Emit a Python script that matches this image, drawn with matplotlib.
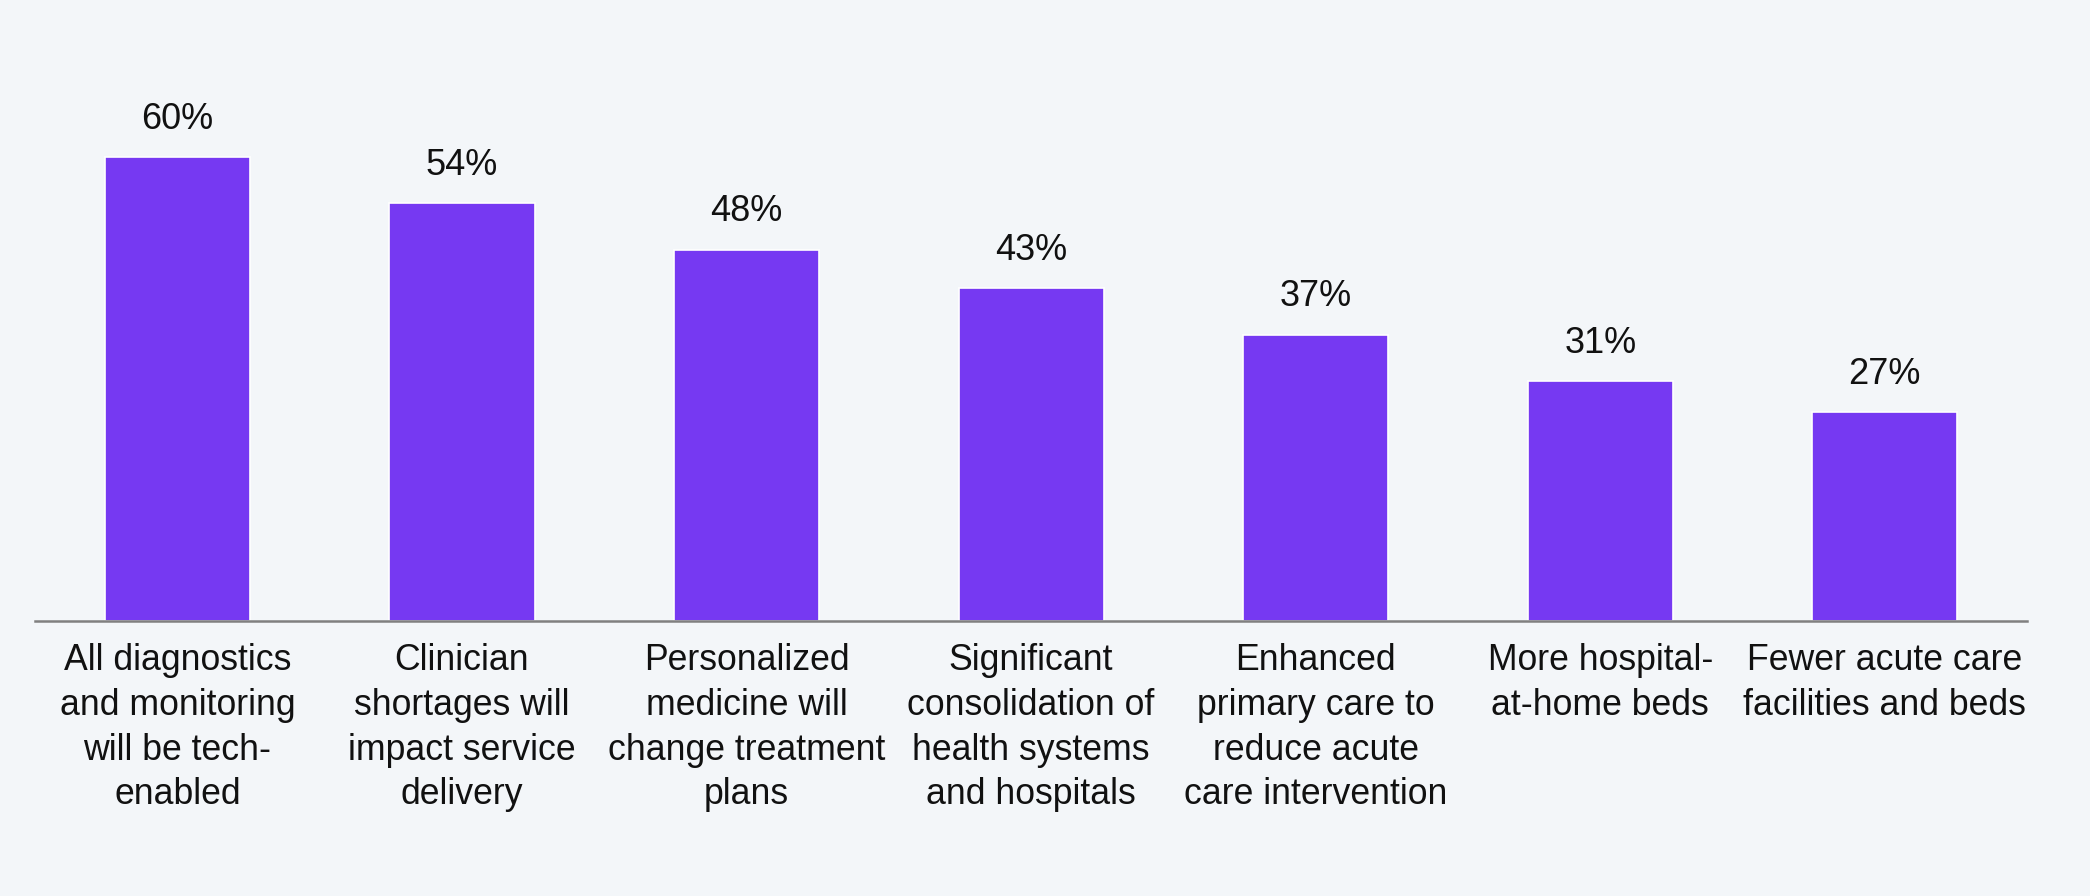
import matplotlib
matplotlib.use("Agg")
from matplotlib import pyplot as plt

# data
categories = [
    "All diagnostics\nand monitoring\nwill be tech-\nenabled",
    "Clinician\nshortages will\nimpact service\ndelivery",
    "Personalized\nmedicine will\nchange treatment\nplans",
    "Significant\nconsolidation of\nhealth systems\nand hospitals",
    "Enhanced\nprimary care to\nreduce acute\ncare intervention",
    "More hospital-\nat-home beds",
    "Fewer acute care\nfacilities and beds",
]
values = [60, 54, 48, 43, 37, 31, 27]

bg = "#F3F6F9"
bar_color = "#7639F2"

plt.rcParams['font.family'] = ['Liberation Sans', 'DejaVu Sans']

fig = plt.figure(figsize=(20.9, 8.96), dpi=100, facecolor=bg)
ax = fig.add_axes([0.0168, 0.3069, 0.9531, 0.6043])
ax.set_facecolor(bg)

x = list(range(len(values)))
ax.bar(x, values, width=0.51, color=bar_color, edgecolor="white", linewidth=1.2)

for xi, v in zip(x, values):
    ax.text(xi, v + 4.9, "%d%%" % v, ha="center", va="center", fontsize=26, color="#111111")

ax.set_xlim(-0.5, 6.5)
ax.set_ylim(0, 70)
ax.set_xticks(x)
ax.set_xticklabels(categories, fontsize=25.7, color="#111111", linespacing=1.36)
ax.tick_params(axis="x", length=0, pad=16)
ax.set_yticks([])

for s in ["top", "left", "right"]:
    ax.spines[s].set_visible(False)
ax.spines["bottom"].set_color("#808080")
ax.spines["bottom"].set_linewidth(1.8)

fig.savefig("out.png", dpi=100, facecolor=bg)
